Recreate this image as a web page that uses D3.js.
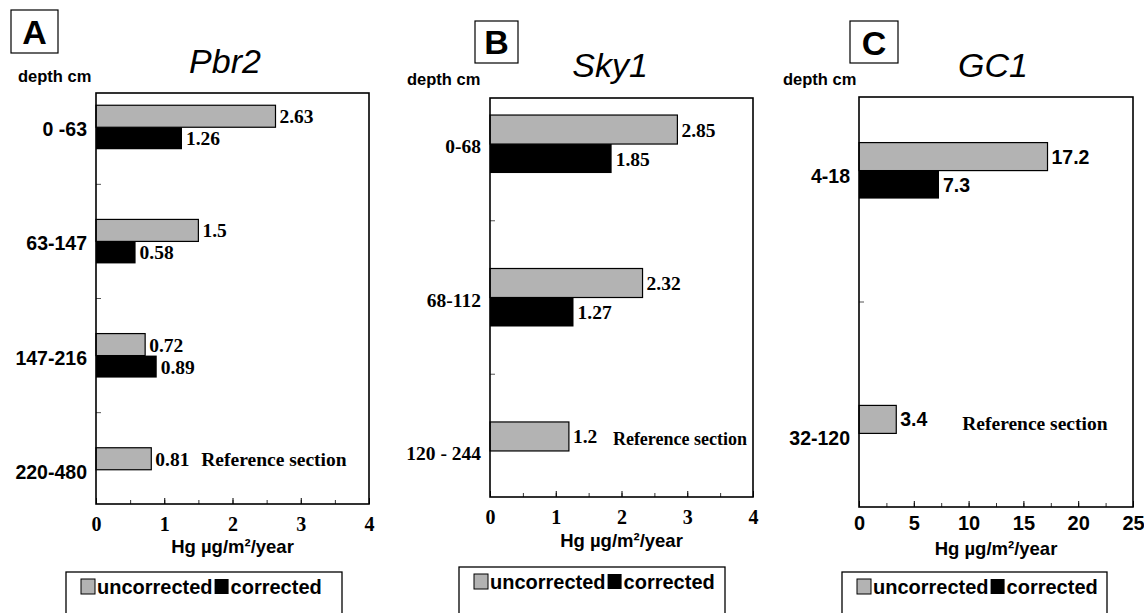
<!DOCTYPE html>
<html>
<head>
<meta charset="utf-8">
<script src="https://cdn.jsdelivr.net/npm/d3@7"></script>
<style>
  body { margin: 0; background: #fff; }
  svg { display: block; }
</style>
</head>
<body>
<svg id="chart" width="1144" height="613"></svg>
<script>
// panel A - Pbr2
const pbr2Depths = ["0 -63", "63-147", "147-216", "220-480"];
const pbr2Uncorrected = [2.63, 1.5, 0.72, 0.81];
const pbr2Corrected = [1.26, 0.58, 0.89, null];

// panel B - Sky1
const sky1Depths = ["0-68", "68-112", "120 - 244"];
const sky1Uncorrected = [2.85, 2.32, 1.2];
const sky1Corrected = [1.85, 1.27, null];

// panel C - GC1
const gc1Depths = ["4-18", "32-120"];
const gc1Uncorrected = [17.2, 3.4];
const gc1Corrected = [7.3, null];

const ticksAB = [0, 1, 2, 3, 4];
const ticksC = [0, 5, 10, 15, 20, 25];
const legendLabels = ["uncorrected", "corrected"];
const referenceNote = "Reference section";
const axisTitle = "Hg µg/m²/year";
const depthTitle = "depth cm";

const SANS = "'Liberation Sans', Arial, sans-serif";
const SERIF = "'Liberation Serif', 'Times New Roman', serif";
const GRAY = "#b3b3b3";

const panels = [
  {letter: "A", title: "Pbr2", depths: pbr2Depths, unc: pbr2Uncorrected, cor: pbr2Corrected,
   xMax: 4, ticks: ticksAB, minor: 0.5,
   x0: 96, x1: 369, y0: 93, y1: 504, pad: 0.3, barH: 22, catDy: 9,
   catFont: SANS, valFont: SERIF, tickFont: SERIF,
   box: [11, 10, 47, 43], letterY: 44, titleX: 225, titleY: 73, depthX: 18, depthY: 82,
   noteGap: 50, noteDy: 7, noteSize: 19.5, tickY: 531, axisY: 553, legend: [66, 572, 276]},
  {letter: "B", title: "Sky1", depths: sky1Depths, unc: sky1Uncorrected, cor: sky1Corrected,
   xMax: 4, ticks: ticksAB, minor: 0.5,
   x0: 490, x1: 753, y0: 98, y1: 497, pad: 0.3, barH: 29, catDy: 9,
   catFont: SERIF, valFont: SERIF, tickFont: SERIF,
   box: [475, 21, 43, 42], letterY: 54, titleX: 610, titleY: 77, depthX: 407, depthY: 85,
   noteGap: 44, noteDy: 9, noteSize: 18, tickY: 524, axisY: 547, legend: [459, 567, 266]},
  {letter: "C", title: "GC1", depths: gc1Depths, unc: gc1Uncorrected, cor: gc1Corrected,
   xMax: 25, ticks: ticksC, minor: 2.5,
   x0: 859, x1: 1133, y0: 97, y1: 507, pad: 0.28, barH: 28, catDy: 12,
   catFont: SANS, valFont: SANS, tickFont: SANS,
   box: [850, 21, 48, 42], letterY: 55, titleX: 993, titleY: 77, depthX: 783, depthY: 85,
   noteGap: 66, noteDy: 11, noteSize: 19.5, tickY: 530, axisY: 555, legend: [842, 572, 265]}
];

const svg = d3.select("#chart");

function drawPanel(p) {
  const g = svg.append("g");
  const x = d3.scaleLinear().domain([0, p.xMax]).range([p.x0, p.x1]);
  const y = d3.scalePoint().domain(p.depths).range([p.y0, p.y1]).padding(p.pad);
  const step = y.step();
  const rows = p.depths.map((d, i) => ({depth: d, unc: p.unc[i], cor: p.cor[i]}));

  // panel letter in a box
  g.append("rect")
    .attr("x", p.box[0]).attr("y", p.box[1])
    .attr("width", p.box[2]).attr("height", p.box[3])
    .attr("fill", "none").attr("stroke", "#000").attr("stroke-width", 1.2);
  g.append("text")
    .attr("x", p.box[0] + p.box[2] / 2).attr("y", p.letterY)
    .attr("text-anchor", "middle")
    .style("font-family", SANS).style("font-weight", "bold").style("font-size", "34px")
    .text(p.letter);

  g.append("text")
    .attr("x", p.titleX).attr("y", p.titleY)
    .attr("text-anchor", "middle")
    .style("font-family", SANS).style("font-style", "italic").style("font-size", "34px")
    .text(p.title);

  g.append("text")
    .attr("x", p.depthX).attr("y", p.depthY)
    .style("font-family", SANS).style("font-weight", "bold").style("font-size", "16.5px")
    .text(depthTitle);

  // bars
  g.selectAll("rect.unc")
    .data(rows)
    .join("rect")
    .attr("class", "unc")
    .attr("x", x(0))
    .attr("y", d => y(d.depth) - p.barH)
    .attr("width", d => x(d.unc) - x(0))
    .attr("height", p.barH)
    .attr("fill", GRAY).attr("stroke", "#000").attr("stroke-width", 1.2);

  g.selectAll("rect.cor")
    .data(rows.filter(d => d.cor != null))
    .join("rect")
    .attr("class", "cor")
    .attr("x", x(0))
    .attr("y", d => y(d.depth))
    .attr("width", d => x(d.cor) - x(0))
    .attr("height", p.barH)
    .attr("fill", "#000");

  // value labels
  g.selectAll("text.uncval")
    .data(rows)
    .join("text")
    .attr("class", "uncval")
    .attr("x", d => x(d.unc) + 4)
    .attr("y", d => y(d.depth) - p.barH / 2 + 7)
    .style("font-family", p.valFont).style("font-weight", "bold").style("font-size", "19.5px")
    .text(d => d.unc);

  g.selectAll("text.corval")
    .data(rows.filter(d => d.cor != null))
    .join("text")
    .attr("class", "corval")
    .attr("x", d => x(d.cor) + 4)
    .attr("y", d => y(d.depth) + p.barH / 2 + 7)
    .style("font-family", p.valFont).style("font-weight", "bold").style("font-size", "19.5px")
    .text(d => d.cor);

  // reference section note next to the last bar
  const last = rows[rows.length - 1];
  g.append("text")
    .attr("x", x(last.unc) + p.noteGap)
    .attr("y", y(last.depth) - p.barH / 2 + p.noteDy)
    .style("font-family", SERIF).style("font-weight", "bold").style("font-size", p.noteSize + "px")
    .text(referenceNote);

  // category labels
  g.selectAll("text.cat")
    .data(rows)
    .join("text")
    .attr("class", "cat")
    .attr("x", p.x0 - 9)
    .attr("y", d => y(d.depth) + p.catDy)
    .attr("text-anchor", "end")
    .style("font-family", p.catFont).style("font-weight", "bold").style("font-size", "19.5px")
    .text(d => d.depth);

  // small ticks between categories
  g.selectAll("line.ytick")
    .data(rows.slice(0, -1))
    .join("line")
    .attr("class", "ytick")
    .attr("x1", p.x0).attr("x2", p.x0 + 5)
    .attr("y1", d => y(d.depth) + step / 2).attr("y2", d => y(d.depth) + step / 2)
    .attr("stroke", "#555").attr("stroke-width", 1);

  // x axis: inward ticks
  const minorAxis = g.append("g")
    .attr("transform", `translate(0,${p.y1})`)
    .call(d3.axisBottom(x).tickValues(d3.range(0, p.xMax + 0.001, p.minor)).tickSize(-4).tickFormat(""));
  minorAxis.select(".domain").remove();
  minorAxis.selectAll("line").attr("stroke", "#333");

  const axis = g.append("g")
    .attr("transform", `translate(0,${p.y1})`)
    .call(d3.axisBottom(x).tickValues(p.ticks).tickSize(-6).tickSizeOuter(0).tickFormat(d3.format("d")));
  axis.select(".domain").remove();
  axis.selectAll("line").attr("stroke", "#000");
  axis.selectAll("text")
    .attr("y", p.tickY - p.y1).attr("dy", null)
    .attr("fill", "#000")
    .style("font-family", p.tickFont).style("font-weight", "bold").style("font-size", "20px");

  // frame
  g.append("rect")
    .attr("x", p.x0).attr("y", p.y0)
    .attr("width", p.x1 - p.x0).attr("height", p.y1 - p.y0)
    .attr("fill", "none").attr("stroke", "#000").attr("stroke-width", 1.6);

  g.append("text")
    .attr("x", (p.x0 + p.x1) / 2).attr("y", p.axisY)
    .attr("text-anchor", "middle")
    .style("font-family", SANS).style("font-weight", "bold").style("font-size", "18.5px")
    .text(axisTitle);

  // legend
  const [lx, ly, lw] = p.legend;
  g.append("rect")
    .attr("x", lx).attr("y", ly).attr("width", lw).attr("height", 60)
    .attr("fill", "#fff").attr("stroke", "#000").attr("stroke-width", 1.3);
  let cx = lx + 15;
  legendLabels.forEach((lab, i) => {
    g.append("rect")
      .attr("x", cx).attr("y", ly + 7).attr("width", 14).attr("height", 15)
      .attr("fill", i === 0 ? GRAY : "#000")
      .attr("stroke", "#000").attr("stroke-width", i === 0 ? 1 : 0);
    const t = g.append("text")
      .attr("x", cx + 16).attr("y", ly + 22)
      .style("font-family", SANS).style("font-weight", "bold").style("font-size", "20px")
      .text(lab);
    cx = cx + 16 + t.node().getComputedTextLength() + 2;
  });
}

panels.forEach(drawPanel);
</script>
</body>
</html>
